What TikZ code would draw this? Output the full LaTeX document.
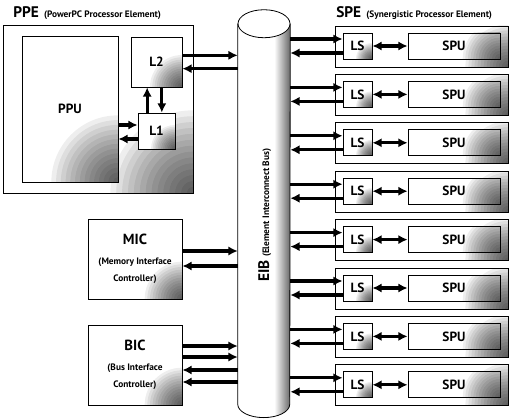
\documentclass[tikz,border=0pt]{standalone}
\usepackage{fontspec}
\setmainfont{PT Sans}
\usetikzlibrary{arrows.meta,positioning}

\tikzset{
  box/.style={draw, line width=0.6pt, fill=white, inner sep=0pt,
    font=\bfseries\fontsize{10}{12}\selectfont},
  dims/.style 2 args={minimum width=#1*0.75pt, minimum height=#2*0.75pt},
  shaded/.style={path picture={
    \foreach \r in {1,...,14}
      \fill[black, opacity=0.065] (path picture bounding box.south east) circle ({\r*#1/14});}},
  bus/.style={line width=2.4pt},
  lift/.style={transform canvas={yshift=#1}},
  title/.style={inner sep=0pt, font=\bfseries\fontsize{11.5}{13}\selectfont},
  subtitle/.style={inner sep=0pt, font=\bfseries\fontsize{7}{8}\selectfont},
  ctrl/.style={box, align=center, font=\bfseries\fontsize{7}{12.75}\selectfont},
}

\begin{document}
\begin{tikzpicture}[x=0.75pt,y=-0.75pt,>={Latex[length=7pt,width=7pt]}]
  \useasboundingbox (0,0) rectangle (509,420);

  % PPE
  \node[title, anchor=base west] (ppe) at (13,18) {PPE};
  \node[subtitle, anchor=base west] (ppesub) at ([xshift=3.5pt]ppe.base east) {(PowerPC Processor Element)};
  \node[box, dims={190}{168}, shaded=62pt] (ppebox) at (98,109) {};
  \node[box, dims={96}{146}, shaded=50pt] (ppu) at (70,109) {PPU};
  \node[box, dims={51}{50}, shaded=24pt] (l2) at (156.5,62) {L2};
  \node[box, dims={37}{36}, shaded=18pt] (l1) at (156.5,131) {L1};

  % MIC and BIC
  \node[ctrl, dims={94}{80}, shaded=28pt] (mic) at (135,259)
    {{\fontsize{11}{13}\selectfont MIC}\\[2pt] (Memory Interface\\ Controller)};
  \node[ctrl, dims={94}{80}, shaded=28pt] (bic) at (135,365)
    {{\fontsize{11}{13}\selectfont BIC}\\[2pt] (Bus Interface\\ Controller)};

  % EIB cylinder
  \node[inner sep=0pt, dims={52}{380}] (eib) at (264,214) {};
  \begin{scope}
    \clip (eib.north west) -- (eib.south west)
      arc[start angle=180, end angle=360, x radius=19.5pt, y radius=10pt]
      -- (eib.north east) -- cycle;
    \shade[left color=white, right color=black!60]
      ([xshift=-12pt]eib.north east) rectangle ([yshift=-12pt]eib.south east);
  \end{scope}
  \draw[line width=0.6pt] (eib.north west) -- (eib.south west)
    arc[start angle=180, end angle=360, x radius=19.5pt, y radius=10pt]
    -- (eib.north east);
  \draw[line width=0.6pt, fill=white] (eib.north) ellipse [x radius=19.5pt, y radius=10.5pt];
  \node[rotate=90, anchor=base west, inner sep=0pt] (eiblabel) at (269,282)
    {\bfseries{\fontsize{11.5}{13}\selectfont EIB} {\fontsize{7}{8}\selectfont (Element Interconnect Bus)}};

  % PPE connections
  \draw[bus,->,lift=4.5pt] (ppu.east |- l1) -- (l1.west);
  \draw[bus,<-,lift=-6pt] (ppu.east |- l1) -- (l1.west);
  \draw[bus,->,transform canvas={xshift=-7pt}] (l1) -- (l2);
  \draw[bus,->,transform canvas={xshift=4pt}] (l2) -- (l1);
  \draw[bus,->,lift=5pt] (l2.east) -- (eib.west |- l2);
  \draw[bus,<-,lift=-5pt] (l2.east) -- (eib.west |- l2);

  % MIC and BIC connections
  \draw[bus,->,lift=6pt] (mic.east) -- (eib.west |- mic);
  \draw[bus,<-,lift=-5.25pt] (mic.east) -- (eib.west |- mic);
  \draw[bus,->,lift=14.25pt] (bic.east) -- (eib.west |- bic);
  \draw[bus,->,lift=6pt] (bic.east) -- (eib.west |- bic);
  \draw[bus,<-,lift=-3.75pt] (bic.east) -- (eib.west |- bic);
  \draw[bus,<-,lift=-12.75pt] (bic.east) -- (eib.west |- bic);

  % SPE
  \node[title, anchor=base west] (spe) at (336,18) {SPE};
  \node[subtitle, anchor=base west] (spesub) at ([xshift=3.5pt]spe.base east) {(Synergistic Processor Element)};
  \foreach \i in {1,...,8}{
    \pgfmathsetmacro\rowtop{26+48.4*(\i-1)}
    \node[box, dims={173}{41}, shaded=32pt] (spe\i) at (421.5,\rowtop+20.5) {};
    \node[box, dims={29}{26}, shaded=12pt] (ls\i) at (357.5,\rowtop+20) {LS};
    \node[box, dims={92}{26}, shaded=28pt] (spu\i) at (454,\rowtop+20) {SPU};
    \draw[bus,->,lift=5.25pt] (eib.east |- ls\i) -- (ls\i.west);
    \draw[bus,<-,lift=-5.25pt] (eib.east |- ls\i) -- (ls\i.west);
    \draw[bus,<->] (ls\i) -- (spu\i);
  }
\end{tikzpicture}
\end{document}
